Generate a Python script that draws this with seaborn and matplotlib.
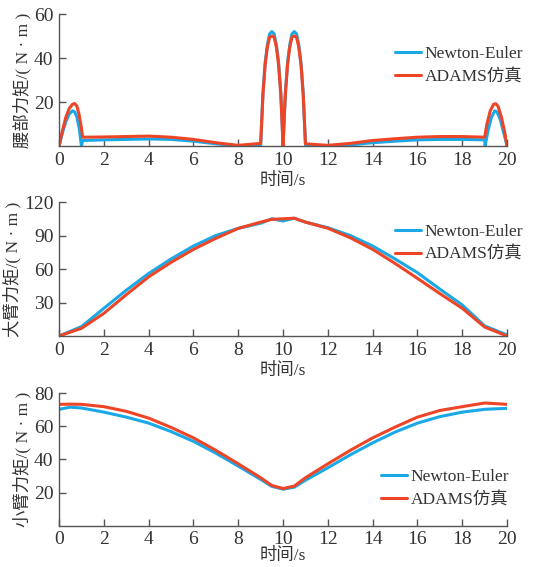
import numpy as np
import pandas as pd
import matplotlib
matplotlib.use("Agg")
import matplotlib.pyplot as plt
import seaborn as sns

sns.set_theme(style="ticks")
plt.rcParams['font.family'] = ['Liberation Serif', 'Noto Sans CJK SC', 'DejaVu Sans']
plt.rcParams['axes.unicode_minus'] = False

series_names = ["Newton-Euler", "ADAMS仿真"]
colors = ["#1ba8e6", "#ee4527"]
xlabel = "时间/s"
ylabels = ["腰部力矩/( N · m )", "大臂力矩/( N · m )", "小臂力矩/( N · m )"]

# waist torque
t_waist_ne = [0, 0.15, 0.3, 0.45, 0.6, 0.7, 0.8, 0.9, 1.0, 1.05, 2, 3, 4, 5, 6, 7, 8, 9,
              9.05, 9.1, 9.2, 9.3, 9.4, 9.5, 9.6, 9.7, 9.8, 9.9, 9.95, 10,
              10.05, 10.1, 10.2, 10.3, 10.4, 10.5, 10.6, 10.7, 10.8, 10.9, 10.95, 11,
              12, 13, 14, 15, 16, 17, 18, 19, 19.02, 19.15, 19.3, 19.45, 19.55, 19.7, 19.85, 20]
waist_ne = [0, 6, 11, 14.5, 16, 15.5, 13, 8, 0, 2.5, 2.8, 3.0, 3.2, 3.0, 2.2, 1.0, 0, 0.3,
            12, 24, 38, 46, 51, 52, 51, 46, 38, 24, 12, 0,
            12, 24, 38, 46, 51, 52, 51, 46, 38, 24, 12, 0.5,
            0, 0.5, 1.5, 2.2, 2.8, 3.0, 3.0, 2.8, 0, 7, 13, 16, 15.5, 12, 6, 0]
t_waist_ad = [0, 0.15, 0.3, 0.45, 0.6, 0.7, 0.8, 0.9, 1.0, 1.05, 2, 3, 4, 5, 6, 7, 8, 9,
              9.05, 9.1, 9.2, 9.3, 9.4, 9.5, 9.6, 9.7, 9.8, 9.9, 9.95, 10,
              10.05, 10.1, 10.2, 10.3, 10.4, 10.5, 10.6, 10.7, 10.8, 10.9, 10.95, 11,
              12, 13, 14, 15, 16, 17, 18, 19, 19.1, 19.25, 19.4, 19.5, 19.6, 19.75, 19.9, 20]
waist_ad = [0, 7, 13, 17, 19, 19.3, 18, 14, 8, 4, 4.1, 4.3, 4.5, 4.0, 3.0, 1.5, 0.3, 1.2,
            12, 23, 37, 45, 49.5, 50, 49.5, 45, 37, 23, 12, 0,
            12, 23, 37, 45, 49.5, 50, 49.5, 45, 37, 23, 12, 1.0,
            0.3, 1.2, 2.5, 3.3, 4.0, 4.3, 4.3, 4.0, 10, 16, 19, 19.2, 18, 13, 6, 0]

# upper arm torque
t_arm = [0, 1, 2, 3, 4, 5, 6, 7, 8, 9, 9.5, 10, 10.5, 11, 12, 13, 14, 15, 16, 17, 18, 19, 20]
upper_ne = [0, 8.4, 24.8, 41, 56, 69, 80.6, 90, 96.4, 101, 105, 103, 105.5, 102, 97, 90,
            80.6, 69, 56.7, 42, 27.8, 9, 1]
upper_ad = [0, 6.9, 20.3, 37, 53, 66, 77.6, 87.5, 96.4, 102, 104.5, 105, 105.5, 102, 96.5, 88,
            77.6, 65, 51.6, 38, 24.8, 8, 0]

# forearm torque
t_fore = [0, 0.5, 1, 2, 3, 4, 5, 6, 7, 8, 9, 9.5, 10, 10.5, 11, 12, 13, 14, 15, 16, 17, 18, 19, 20]
fore_ne = [70.2, 71.5, 71, 68.5, 65.5, 61.9, 56.8, 50.9, 43.8, 36, 28, 23.8, 22.1, 23.3, 27.5, 35,
           42.8, 50, 56.5, 61.9, 65.8, 68.5, 70.2, 70.8]
fore_ad = [73.2, 73.3, 73.2, 71.8, 69, 64.9, 59.3, 53, 45.5, 37.4, 29, 24.3, 22.5, 24.0, 29,
           37.4, 45.5, 53, 59.5, 65.5, 69.5, 71.8, 74, 73.2]

panels = [
    ((t_waist_ne, waist_ne), (t_waist_ad, waist_ad), 60, [20, 40, 60], (0.735, 0.81)),
    ((t_arm, upper_ne), (t_arm, upper_ad), 120, [30, 60, 90, 120], (0.735, 0.89)),
    ((t_fore, fore_ne), (t_fore, fore_ad), 80, [20, 40, 60, 80], (0.703, 0.48)),
]

fig = plt.figure(figsize=(5.47, 5.67), dpi=100)
rects = [(0.108, 0.7425, 0.819, 0.2328),
         (0.108, 0.4074, 0.819, 0.2363),
         (0.108, 0.0725, 0.819, 0.2343)]
xpads = [3, 3, 0]

tc = "#333333"
for i, ((tx1, y1), (tx2, y2), ymax, yt, lpos) in enumerate(panels):
    ax = fig.add_axes(rects[i])
    df = pd.concat([
        pd.DataFrame({"t": tx1, "v": y1, "s": series_names[0]}),
        pd.DataFrame({"t": tx2, "v": y2, "s": series_names[1]}),
    ], ignore_index=True)
    sns.lineplot(data=df, x="t", y="v", hue="s", hue_order=series_names,
                 palette=colors, estimator=None, sort=False, linewidth=2.2, ax=ax)
    ax.set_xlim(0, 20)
    ax.set_ylim(0, ymax)
    ax.set_xticks(range(0, 21, 2))
    ax.set_yticks(yt)
    sns.despine(ax=ax)
    for sp in ["left", "bottom"]:
        ax.spines[sp].set_color("#555555")
        ax.spines[sp].set_linewidth(1.0)
    ax.tick_params(direction="in", length=5, width=1.0, colors="#555555",
                   labelcolor=tc, labelsize=14, pad=4)
    ax.set_xlabel(xlabel, fontsize=12.5, color=tc, labelpad=xpads[i])
    ax.set_ylabel(ylabels[i], fontsize=12.5, color=tc, labelpad=2)
    leg = ax.legend(loc="upper left", bbox_to_anchor=lpos, frameon=False,
                    fontsize=12.5, handlelength=1.5, handletextpad=0.2,
                    labelspacing=0.4, borderaxespad=0)
    for txt in leg.get_texts():
        txt.set_color(tc)

fig.savefig("out.png", dpi=100)
